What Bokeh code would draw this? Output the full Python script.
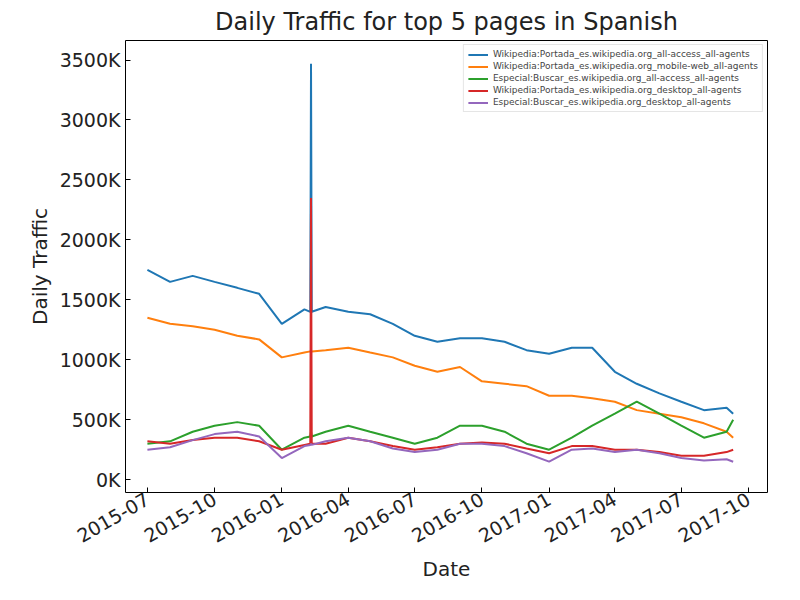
import math
import pandas as pd

from bokeh.embed import file_html
from bokeh.models import CustomJSTickFormatter, DatetimeTickFormatter, MonthsTicker, Range1d
from bokeh.plotting import figure
from bokeh.resources import INLINE

dates = pd.to_datetime([
    "2015-07-01", "2015-08-01", "2015-09-01", "2015-10-01", "2015-11-01", "2015-12-01",
    "2016-01-01", "2016-02-01", "2016-02-09", "2016-02-10", "2016-02-11", "2016-03-01",
    "2016-04-01", "2016-05-01", "2016-06-01", "2016-07-01", "2016-08-01", "2016-09-01",
    "2016-10-01", "2016-11-01", "2016-12-01", "2017-01-01", "2017-02-01", "2017-03-01",
    "2017-04-01", "2017-05-01", "2017-06-01", "2017-07-01", "2017-08-01", "2017-09-01",
    "2017-09-10",
])

# daily views, in thousands
portada_all = [1750, 1650, 1700, 1650, 1600, 1550, 1300, 1420, 1400, 3470, 1400, 1440,
               1400, 1380, 1300, 1200, 1150, 1180, 1180, 1150, 1080, 1050, 1100, 1100,
               900, 800, 720, 650, 580, 600, 550]
portada_mobile = [1350, 1300, 1280, 1250, 1200, 1170, 1020, 1060, 1070, 1070, 1070, 1080,
                  1100, 1060, 1020, 950, 900, 940, 820, 800, 780, 700, 700, 680,
                  650, 580, 550, 520, 470, 400, 350]
buscar_all = [300, 320, 400, 450, 480, 450, 250, 350, 360, 400, 360, 400,
              450, 400, 350, 300, 350, 450, 450, 400, 300, 250, 350, 450,
              550, 650, 550, 450, 350, 400, 500]
portada_desktop = [320, 300, 330, 350, 350, 320, 250, 290, 300, 2350, 300, 300,
                   350, 320, 280, 250, 270, 300, 310, 300, 260, 220, 280, 280,
                   250, 250, 230, 200, 200, 230, 250]
buscar_desktop = [250, 270, 330, 380, 400, 360, 180, 280, 290, 300, 290, 320,
                  350, 320, 260, 230, 250, 300, 300, 280, 220, 150, 250, 260,
                  230, 250, 220, 180, 160, 170, 150]

series = [
    ("Wikipedia:Portada_es.wikipedia.org_all-access_all-agents", portada_all, "#1f77b4"),
    ("Wikipedia:Portada_es.wikipedia.org_mobile-web_all-agents", portada_mobile, "#ff7f0e"),
    ("Especial:Buscar_es.wikipedia.org_all-access_all-agents", buscar_all, "#2ca02c"),
    ("Wikipedia:Portada_es.wikipedia.org_desktop_all-agents", portada_desktop, "#d62728"),
    ("Especial:Buscar_es.wikipedia.org_desktop_all-agents", buscar_desktop, "#9467bd"),
]

font = "DejaVu Sans"
p = figure(width=784, height=584, x_axis_type="datetime", output_backend="svg",
           toolbar_location=None, title="Daily Traffic for top 5 pages in Spanish",
           x_range=Range1d(pd.Timestamp("2015-06-01"), pd.Timestamp("2017-10-27")),
           y_range=Range1d(-107, 3663), min_border_left=125, min_border_right=17,
           min_border_top=10, min_border_bottom=10)

for name, vals, color in series:
    p.line(dates, vals, color=color, line_width=2, legend_label=name)

p.title.text_font = font
p.title.text_font_size = "24px"
p.title.text_font_style = "normal"
p.title.text_color = "#222222"
p.title.align = "center"

p.xaxis.ticker = MonthsTicker(months=[0, 3, 6, 9])
p.xaxis.formatter = DatetimeTickFormatter(months="%Y-%m", years="%Y-%m")
p.xaxis.major_label_orientation = math.pi / 6
p.yaxis.ticker = [0, 500, 1000, 1500, 2000, 2500, 3000, 3500]
p.yaxis.formatter = CustomJSTickFormatter(code="return tick.toFixed(0) + 'K';")
p.xaxis.axis_label = "Date"
p.yaxis.axis_label = "Daily Traffic"

for ax in [p.xaxis, p.yaxis]:
    ax.axis_label_text_font = font
    ax.axis_label_text_font_size = "20px"
    ax.axis_label_text_font_style = "normal"
    ax.axis_label_text_color = "#222222"
    ax.major_label_text_font = font
    ax.major_label_text_font_size = "19px"
    ax.major_label_text_color = "#222222"
    ax.major_tick_in = 5
    ax.major_tick_out = 0
    ax.minor_tick_in = 0
    ax.minor_tick_out = 0
    ax.axis_line_color = None

p.grid.visible = False
p.outline_line_color = "black"
p.outline_line_width = 1

p.legend.location = "top_right"
p.legend.label_text_font = font
p.legend.label_text_font_size = "9px"
p.legend.label_height = 9
p.legend.glyph_height = 9
p.legend.glyph_width = 20
p.legend.spacing = 2
p.legend.padding = 4
p.legend.margin = 4
p.legend.border_line_color = "#cccccc"

open("out.html", "w").write(file_html(p, INLINE))
